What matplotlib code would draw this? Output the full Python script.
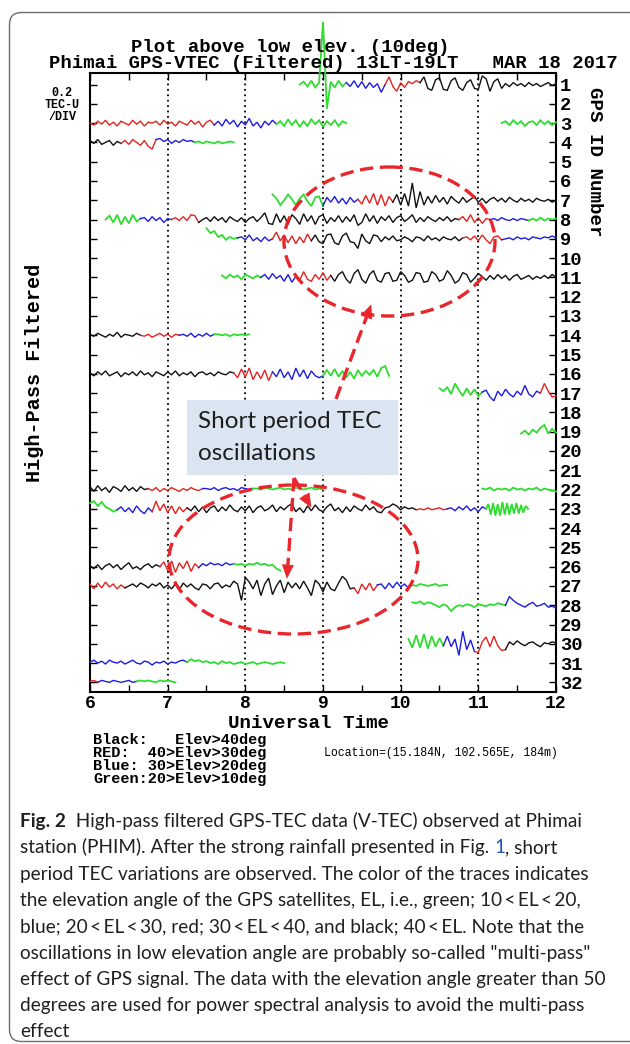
import numpy as np
import matplotlib
matplotlib.use("Agg")
import matplotlib.pyplot as plt
from matplotlib.patches import Ellipse, FancyBboxPatch, Rectangle, Polygon

# ------------------------------------------------------------------
# DATA  (values in 0.01 TEC-U; 0.2 TEC-U per division)
# ------------------------------------------------------------------
DT = 0.05                      # hours between samples
TEC_PER_DIV = 0.2
X_TICKS = [6, 7, 8, 9, 10, 11, 12]
Y_IDS = list(range(1, 33))

prn01_id, prn01_t0 = 1, 8.70
prn01_v = [0, 3, -2, 4, -3, 2, 65, -25, 3, -3, 4, -2, 2,
           -2, 4, -3, 3, -4, 2, -3, 1, -8, 0,
           8, -2, -7, 2, -3, 3, 1, 4, 2,
           8, -4, -6, 5, 7, -5, -6, 4, 7, -3, -6, 2, 5, -4, -5, 9, 6, -7, 3, 6,
           -4, 1, -2, 2, -1, 1, -2, 2, -1, 1, -2, 0, 2, -1, 1]
prn01_cuts, prn01_cols = [9.30, 9.80, 10.25], ["G", "B", "R", "K"]

prn03a_id, prn03a_t0 = 3, 6.00
prn03a_v = [0, -2, 2, -1, 3, -2, 1, -3, 2, 0, -2, 3, -1, 2, -3, 1, 0, 2, -2, 3, -1, 1, -3, 2, 0,
            -2, 3, -1, 2, -4, 1, 3, -2,
            2, -3, 4, -1, 3, -4, 2, -2, 5, -3, 1, -5, 2, -2, 3, -1,
            2, -3, 4, -2, 3, -4, 2, -3, 4, -1, 3, -4, 2, -2, 3, -3, 2, 0]
prn03a_cuts, prn03a_cols = [7.60, 8.40], ["R", "B", "G"]

prn03b_id, prn03b_t0 = 3, 11.30
prn03b_v = [0, 2, -2, 3, -1, 2, -3, 1, 2, -2, 3, -1, 2, -2, 1]
prn03b_cuts, prn03b_cols = [], ["G"]

prn04_id, prn04_t0 = 4, 6.00
prn04_v = [2, -1, 3, -2, 0, 2, -3, 1, -1,
           2, -2, 3, 0, -3, 2, -4, -7, 3,
           4, 1, 3, -1, 2, 0, 3, 1, 2, 0,
           1, -1, 1, 0, -1, 1, -1, 0, 1, 0]
prn04_cuts, prn04_cols = [6.40, 6.85, 7.35], ["K", "R", "B", "G"]

prn07_id, prn07_t0 = 7, 8.35
prn07_v = [6, 2, -5, 0, 6, 1, -5, 2, 6, -1, -6, 3, 4, -6,
           3, -2, 4, -3, 2, -4, 3, -2, 1,
           -4, 5, -3, 7, -5, 6, -6, 4, -2,
           6, -5, 7, -6, 18, -8, 9, -5, 4, -3, 5, -2, 3, -4, 4, 0, -3, 3, -2, 1,
           4, -2, 2, -3, 1, 3, -1, 2, -2, 3, 0, -2, 2, -1, 1, -2, 2, 0, -1, 1, -2, 0]
prn07_cuts, prn07_cols = [9.00, 9.45, 9.90], ["G", "B", "R", "K"]

prn08_id, prn08_t0 = 8, 6.20
prn08_v = [0, 4, -3, 5, -5, 3, -4, 5, -2, 1,
           2, -2, 3, -1, 2, -3, 1, 0,
           2, -1, 3, -1, 5, 4, -3,
           0, 2, -2, 3, -1, 2, -3, 3, 0, -2, 2, -3, 1, 3, -2, 2, 7, -4, -5, 6,
           -3, 4, -5, 5, 1, -5, 6, -2, 4, -5, 3, 5, -4, 2, -2, 4, -3, 3, -2, 5,
           -6, -3, 6, -2, 4, -4, 3, -1, 4, -3, 2, 4, -2, 1, 5, -3, 2, -2, 3, 0,
           -2, 2, -1, 3, -2, 1, 0,
           3, -2, 5, -3, 2, -4, 1, 0,
           1, -1, 2, 0, -1, 1, -1, 1, 0, -1,
           1, -1, 2, -1, 1, 0, 1]
prn08_cuts, prn08_cols = [6.65, 7.05, 7.40, 10.75, 11.15, 11.65], ["G", "B", "R", "K", "R", "B", "G"]

prn09_id, prn09_t0 = 9, 7.50
prn09_v = [11, 6, 8, 2, 4, -1, 2, 0, 1,
           2, -1, 4, -2, 1, -3, 2, -2, 0,
           7, -2, 4, -4, 3, -5, 2, -4, 5, -2,
           4, -3, -5, 4, 5, -4, -6, 3, 6, -3, -4, -10, 5, -2, -5, 4, 3, -3, 2, -1,
           3, -2, -1, 2, 0, -3, 2, 1, -2, 3, -1, 1, -2, 2, 0, -1, 2, -2, 1,
           2, -1, 3, -2, 4, -1, -5, 2, 3, -1,
           0, 1, -1, 2, 0, 1, -1, 2, 1, 0, 2, 1, 3, 1]
prn09_cuts, prn09_cols = [7.90, 8.35, 8.85, 10.80, 11.30], ["G", "B", "R", "K", "R", "B"]

prn11_id, prn11_t0 = 11, 7.70
prn11_v = [2, -1, 3, 0, 2, -2, 3, 1, -1, 2, 0,
           3, -2, 4, -1, 2, -4, 3, -5, 1,
           -3, 6, -2, -4, 3, -2, 5, -3, 2,
           -4, 3, 6, -2, -6, 4, 8, -2, -6, 3, 7, -3, -5, 4, 5, -4, -3, 6, 2, -5,
           -3, 5, 4, -5, -4, 6, 3, -4, -2, 7, 2, -6, -3, 5, 3, -5, -1, 4, 1, -3,
           2, -2, 3, -1, 2, -3, 1, 3, -2, 0, 2, -2, 1, -1, 2, -1, 3, 0]
prn11_cuts, prn11_cols = [8.20, 8.65, 9.10], ["G", "B", "R", "K"]

prn14_id, prn14_t0 = 14, 6.00
prn14_v = [1, -1, 2, 0, -2, 1, -1, 3, -2, 1, 0, -1, 2, 0,
           -1, 1, -2, 0, 2, -1, 1, -2, 1, 0,
           1, -1, 2, -2, 1, -1, 2, -1, 1,
           1, 0, 1, -1, 1, 0, 1, 0, 1]
prn14_cuts, prn14_cols = [6.65, 7.15, 7.60], ["K", "R", "B", "G"]

prn16_id, prn16_t0 = 16, 6.00
prn16_v = [1, -2, 2, -1, 3, -2, 0, 2, -3, 1, -1, 2, -2, 3, -1, 1, -3, 2, 0, -2,
           2, -1, 3, -2, 1, -1, 2, -3, 1, 2, -1, 1, -2, 2, 0, -1, 2, 1,
           -4, 5, -3, 6, -6, 2, -5, 4, -7, 2,
           -3, 5, -4, 2, -6, 6, -3, 4, -5, 3, -2, -4, -2,
           4, -2, 5, -3, 3, -4, 2, -5, 4, -2, 3, -1, 4, -3, 6, 8, -2]
prn16_cuts, prn16_cols = [7.85, 8.35, 9.00], ["K", "R", "B", "G"]

prn17_id, prn17_t0 = 17, 10.50
prn17_v = [5, 2, 6, -1, 10, 3, -3, 5, -2, 4, -3, 1,
           3, -4, -8, 2, -3, 4, -1, -4, 2, -2, 8, -1, -4, 2, 0,
           10, 2, -4, -3]
prn17_cuts, prn17_cols = [11.05, 11.80], ["G", "B", "R"]

prn19_id, prn19_t0 = 19, 11.55
prn19_v = [-2, 1, -3, 2, -1, 4, 7, -2, 3, -1]
prn19_cuts, prn19_cols = [], ["G"]

prn22a_id, prn22a_t0 = 22, 6.00
prn22a_v = [3, -2, 4, -1, 2, -3, 3, 1, -2, 4, -1, 2, -2, 3, 0, 1,
            -1, 2, -2, 1, -1, 2, 0, -2, 1, -1, 2, 0, -1, 1,
            1, 0, 2, -1, 1, 2, 0, 1, -1, 2, 1, 0, 1,
            1, 0, 2, 1, 0, 1, 2, 0, 1, 0, 2, 1, 0, 1, 2, 0, 1, 0]
prn22a_cuts, prn22a_cols = [6.75, 7.45, 8.10], ["K", "R", "B", "G"]

prn22b_id, prn22b_t0 = 22, 11.05
prn22b_v = [1, 0, 2, -1, 1, 0, 1, -1, 2, 0, 1, -1, 1, 0, 2, -1, 1, 0, -1, -2]
prn22b_cuts, prn22b_cols = [], ["G"]

prn23a_id, prn23a_t0 = 23, 6.00
prn23a_v = [6, 8, 3, 7, 2, 0, -3, -1,
            2, -3, 1, -4, 3, -2, -5, 1, -3,
            8, -2, 5, -4, 3, -5, 2, -3, 1,
            -2, 3, -3, 2, -4, 1, 3, -3, 2, -2, 4, -1, -3, 2, -2, 3, -4, 1, 3, -2,
            0, 4, -3, 2, -1, 3, 5, -3, 1, -4, 3, -2, 4, -1, -3, 2, 5, -2, 1, -4,
            2, -3, 3, 0, -2, 4, -1, 2, -3, -4, 1, 2, 5, 3, -1, 2, 0, 1, -1,
            0, -1, 1, -1, 0, 1, -1, 0,
            1, -2, 2, -1, 3, -2, 1, -3, 2, 0]
prn23a_cuts, prn23a_cols = [6.35, 6.80, 7.25, 10.20, 10.60], ["G", "B", "R", "K", "R", "B"]

prn23b_id, prn23b_t0, prn23b_dt = 23, 11.10, 0.03
prn23b_v = [0, 5, -6, 6, -7, 5, -7, 7, -6, 6, -6, 5, -5, 6, -5, 4, -4, 3, 0]
prn23b_cuts, prn23b_cols = [], ["G"]

prn26_id, prn26_t0 = 26, 6.00
prn26_v = [1, -2, 2, -3, 1, 3, -1, 2, -3, 1, 4, -2, 0, -3, 1, 3, -1, 2, 0,
           5, -4, 6, -6, 4, -2, 6, -5, 3, -1,
           3, 1, 4, 2, 3, 1, 4, 2, 3,
           2, 3, 1, 3, 2, 4, 2, 3, 1, 2, -2, -4]
prn26_cuts, prn26_cols = [6.90, 7.40, 7.85], ["K", "R", "B", "G"]

prn27_id, prn27_t0 = 27, 6.00
prn27_v = [2, -3, 3, -2, 4, -1, 2, -3, 1, -2,
           0, 2, -1, 3, 1, -2, 2, 0, 3, -2, 1, -3, 2, -4, 3, -1, 2, -2, -4, 2,
           1, -3, 2, 3, -2, 1, -1, 5, 2, -15, 9, 4, -3, 6, -10, 2, 8, -9, 0, 6,
           -7, 4, -2, 3, -3, 5, -2, -10, 6, 2, -6, 4, -3, -5, 3, 10, 6, -3, -2,
           -8, 2, -4, 3, -5, 1,
           2, -3, 3, -2, 4, -1, 2, -2,
           1, 0, 2, 1, 0, 1, 2, 0, 1, 1]
prn27_cuts, prn27_cols = [6.45, 9.40, 9.70, 10.10], ["R", "K", "R", "B", "G"]

prn28_id, prn28_t0 = 28, 10.15
prn28_v = [3, 2, 4, 1, 3, 2, 0, -2, 1, -1, -6, -2, 0, -1, 1, 0, -2, 1, 0, -1, 1, 0, 2, 1, 0,
           9, 5, 2, 0, -2, 1, 3, -1, 0, 2, -2, -1, -3]
prn28_cuts, prn28_cols = [11.35], ["G", "B"]

prn30_id, prn30_t0 = 30, 10.10
prn30_v = [5, -4, 9, -4, 10, -5, 8, -3, 6, -2,
           8, -3, 5, -12, 13, -6, 4, -8,
           -9, 2, 7, -3, 8, -2, -7, -6,
           2, -1, 3, 0, -2, 1, 2, -1, -3, 1, 0, 2, 1]
prn30_cuts, prn30_cols = [10.55, 10.95, 11.35], ["G", "B", "R", "K"]

prn31_id, prn31_t0 = 31, 6.00
prn31_v = [1, 3, 0, 2, -1, 3, 1, 0, 2, -1, 1, 3, 0, -1, 2, 1, -2, 1, 0, 2, -1, 1, 0, 2, 3, 1,
           4, 2, 3, 1, 2, 0, 1, -1, 2, 0, 1, -1, 0, 1, -1, 0, 1, -1, 0, 1, 0, -1, 0, 1, 0]
prn31_cuts, prn31_cols = [7.25], ["B", "G"]

prn32_id, prn32_t0 = 32, 6.00
prn32_v = [1, 2, 0, 2, 1, 0, 2, 1, 0, 1, 2, 0, 1, 2, 1, 2, 1, 0, 2, 1, 2, 1, 0]
prn32_cuts, prn32_cols = [6.10, 6.60], ["R", "B", "G"]

TRACES = [
    (prn01_id, prn01_t0, DT, prn01_v, prn01_cuts, prn01_cols),
    (prn03a_id, prn03a_t0, DT, prn03a_v, prn03a_cuts, prn03a_cols),
    (prn03b_id, prn03b_t0, DT, prn03b_v, prn03b_cuts, prn03b_cols),
    (prn04_id, prn04_t0, DT, prn04_v, prn04_cuts, prn04_cols),
    (prn07_id, prn07_t0, DT, prn07_v, prn07_cuts, prn07_cols),
    (prn08_id, prn08_t0, DT, prn08_v, prn08_cuts, prn08_cols),
    (prn09_id, prn09_t0, DT, prn09_v, prn09_cuts, prn09_cols),
    (prn11_id, prn11_t0, DT, prn11_v, prn11_cuts, prn11_cols),
    (prn14_id, prn14_t0, DT, prn14_v, prn14_cuts, prn14_cols),
    (prn16_id, prn16_t0, DT, prn16_v, prn16_cuts, prn16_cols),
    (prn17_id, prn17_t0, DT, prn17_v, prn17_cuts, prn17_cols),
    (prn19_id, prn19_t0, DT, prn19_v, prn19_cuts, prn19_cols),
    (prn22a_id, prn22a_t0, DT, prn22a_v, prn22a_cuts, prn22a_cols),
    (prn22b_id, prn22b_t0, DT, prn22b_v, prn22b_cuts, prn22b_cols),
    (prn23a_id, prn23a_t0, DT, prn23a_v, prn23a_cuts, prn23a_cols),
    (prn23b_id, prn23b_t0, prn23b_dt, prn23b_v, prn23b_cuts, prn23b_cols),
    (prn26_id, prn26_t0, DT, prn26_v, prn26_cuts, prn26_cols),
    (prn27_id, prn27_t0, DT, prn27_v, prn27_cuts, prn27_cols),
    (prn28_id, prn28_t0, DT, prn28_v, prn28_cuts, prn28_cols),
    (prn30_id, prn30_t0, DT, prn30_v, prn30_cuts, prn30_cols),
    (prn31_id, prn31_t0, DT, prn31_v, prn31_cuts, prn31_cols),
    (prn32_id, prn32_t0, DT, prn32_v, prn32_cuts, prn32_cols),
]

COLORS = {"K": "#111111", "R": "#e3231f", "B": "#1c1ce0", "G": "#2fdc2f"}
LWS = {"K": 1.0, "R": 1.0, "B": 1.0, "G": 1.3}

LEGEND_LINES = ["Black:   Elev>40deg", "RED:  40>Elev>30deg",
                "Blue: 30>Elev>20deg", "Green:20>Elev>10deg"]

CAPTION = [
    [("Fig. 2", "b"), ("  High-pass filtered GPS-TEC data (V-TEC) observed at Phimai", "n")],
    [("station (PHIM). After the strong rainfall presented in Fig.\u00a0", "n"), ("1", "link"), (", short", "n")],
    [("period TEC variations are observed. The color of the traces indicates", "n")],
    [("the elevation angle of the GPS satellites, EL, i.e., green; 10\u2009<\u2009EL\u2009<\u200920,", "n")],
    [("blue; 20\u2009<\u2009EL\u2009<\u200930, red; 30\u2009<\u2009EL\u2009<\u200940, and black; 40\u2009<\u2009EL. Note that the", "n")],
    [("oscillations in low elevation angle are probably so-called \"multi-pass\"", "n")],
    [("effect of GPS signal. The data with the elevation angle greater than 50", "n")],
    [("degrees are used for power spectral analysis to avoid the multi-pass", "n")],
    [("effect", "n")],
]

# ------------------------------------------------------------------
# FIGURE
# ------------------------------------------------------------------
plt.rcParams["font.family"] = ["Liberation Mono", "DejaVu Sans Mono"]
W, H = 630, 1044
fig = plt.figure(figsize=(W / 100, H / 100), dpi=100)
fig.patch.set_facecolor("white")

def fx(x):
    return x / W

def fy(y):
    return 1 - y / H

AX_L, AX_R, AX_T, AX_B = 90, 556, 73, 692
ax = fig.add_axes([fx(AX_L), fy(AX_B), (AX_R - AX_L) / W, (AX_B - AX_T) / H])
ax.set_xlim(X_TICKS[0], X_TICKS[-1])
ax.set_ylim(32.5, 0.4)

for pid, t0, dt, vals, cuts, cols in TRACES:
    v = np.asarray(vals, dtype=float)
    t = t0 + dt * np.arange(len(v))
    y = pid - v * 0.01 / TEC_PER_DIV
    bounds = [t[0]] + list(cuts) + [t[-1]]
    for i, c in enumerate(cols):
        m = (t >= bounds[i] - 1e-6) & (t <= bounds[i + 1] + 1e-6)
        ax.plot(t[m], y[m], color=COLORS[c], lw=LWS[c], clip_on=False,
                solid_joinstyle="miter", zorder=3)

ax.set_xticks(X_TICKS)
ax.set_xticklabels([str(x) for x in X_TICKS])
ax.set_xticks(np.arange(X_TICKS[0], X_TICKS[-1] + 0.01, 0.5), minor=True)
ax.set_yticks(Y_IDS)
ax.set_yticklabels([str(i) for i in Y_IDS])
ax.tick_params(axis="x", which="both", direction="in", top=True, bottom=True,
               length=5, width=1.0, labelsize=13, pad=2.5)
ax.tick_params(axis="y", which="both", direction="in", left=True, right=True,
               labelleft=False, labelright=True, length=5, width=1.0,
               labelsize=13.5, pad=3)
for lab in ax.get_xticklabels() + ax.get_yticklabels():
    lab.set_fontweight("bold")
for s in ax.spines.values():
    s.set_linewidth(1.5)
for xv in X_TICKS[1:-1]:
    ax.axvline(xv, color="black", lw=1.3, ls=(0, (1, 2)), zorder=1)

# ------------------------------------------------------------------
# overlay in pixel coordinates
# ------------------------------------------------------------------
ov = fig.add_axes([0, 0, 1, 1], zorder=5)
ov.set_xlim(0, W)
ov.set_ylim(H, 0)
ov.axis("off")
ov.patch.set_alpha(0)

MONO = dict(family="Liberation Mono", weight="bold")
ov.text(290, 47, "Plot above low elev. (10deg)", ha="center", va="center", size=13.6, **MONO)
ov.text(333, 63, "Phimai GPS-VTEC (Filtered) 13LT-19LT   MAR 18 2017", ha="center", va="center",
        size=13.6, **MONO)
ov.text(62, 105, "0.2\nTEC-U\n/DIV", ha="center", va="center", size=8.5, linespacing=1.05, **MONO)
ov.text(35, 373, "High-Pass Filtered", rotation=90, ha="center", va="center", size=14.5, **MONO)
ov.text(595, 162, "GPS ID Number", rotation=-90, ha="center", va="center", size=13.8, **MONO)
ov.text(308, 724, "Universal Time", ha="center", va="center", size=13.8, **MONO)
for k, line in enumerate(LEGEND_LINES):
    ov.text(93, 740 + 13 * k, line, ha="left", va="center", size=11, **MONO)
ov.text(324, 753, "Location=(15.184N, 102.565E, 184m)", ha="left", va="center", size=8.3,
        family="Liberation Mono")

# frame
ov.add_patch(FancyBboxPatch((9.5, 12.5), 700, 1029, boxstyle="round,pad=0,rounding_size=12",
                            fill=False, ec="#6b6b6b", lw=1.0))

RED = "#e8262b"
ov.add_patch(Ellipse((389.5, 241.5), 211, 149, fill=False, ec=RED, lw=2.4, ls=(0, (4, 2))))
ov.add_patch(Ellipse((293.5, 559.5), 249, 149, fill=False, ec=RED, lw=2.4, ls=(0, (4, 2))))

def dashed_arrow(p0, p1, hl=13, hw=11):
    p0 = np.array(p0, float)
    p1 = np.array(p1, float)
    d = (p1 - p0) / np.hypot(*(p1 - p0))
    n = np.array([-d[1], d[0]])
    base = p1 - d * hl
    ov.plot([p0[0], base[0]], [p0[1], base[1]], color=RED, lw=2.4, ls=(0, (4, 2)),
            solid_capstyle="butt")
    ov.add_patch(Polygon([p1, base + n * hw / 2, base - n * hw / 2], closed=True,
                         fc=RED, ec=RED, lw=0.5))

dashed_arrow((336, 399), (371, 305))
dashed_arrow((294, 478), (311, 507))
dashed_arrow((294, 478), (287, 578))

# annotation box
ov.add_patch(Rectangle((187, 400), 211, 75, fc="#dbe5f1", ec="none"))
renderer = fig.canvas.get_renderer()
SANS = ["Lato", "DejaVu Sans"]
tmp = ov.text(198, 422, "Short period TEC", ha="left", va="center", size=16, family=SANS,
              color="#1e1e1e")
w = tmp.get_window_extent(renderer).width
bsize = 16 * 184 / w
tmp.set_fontsize(bsize)
ov.text(198, 453, "oscillations", ha="left", va="center", size=bsize, family=SANS, color="#1e1e1e")

# caption
def run_kw(kind, size):
    kw = dict(size=size, family=SANS, color="#231f20")
    if kind == "b":
        kw["weight"] = "bold"
    if kind == "link":
        kw["color"] = "#2456b8"
    return kw

def put_runs(x, y, runs, size, draw=True):
    total = 0
    for s, kind in runs:
        t = ov.text(x + total, y, s, ha="left", va="baseline", **run_kw(kind, size))
        total += t.get_window_extent(renderer).width
        if not draw:
            t.remove()
    return total

wmax = max(put_runs(20, 0, runs, 12, draw=False) for runs in CAPTION)
csize = 12 * (606 - 20) / wmax
for k, runs in enumerate(CAPTION):
    put_runs(20, 827 + 26.3 * k, runs, csize)

fig.savefig("out.png", dpi=100, facecolor="white")
